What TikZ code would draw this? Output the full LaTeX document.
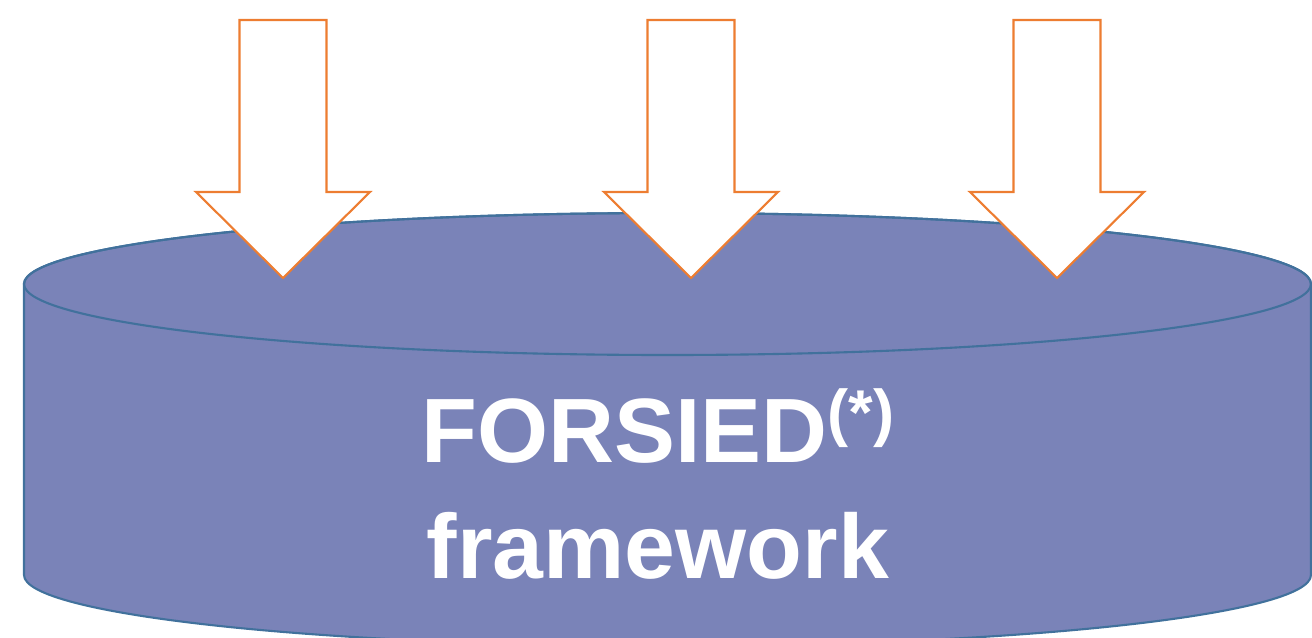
\documentclass[tikz,border=0pt]{standalone}
\usepackage{fontspec}
\setmainfont{Liberation Sans}
\definecolor{drumfill}{RGB}{122,131,184}
\definecolor{drumline}{RGB}{65,113,156}
\definecolor{feedorange}{RGB}{237,125,49}
\tikzset{
  drum/.style={fill=drumfill, draw=drumline, line width=0.6pt},
  feed/.style={fill=white, draw=feedorange, line width=0.6pt, line join=miter},
  title/.style={text=white, font=\bfseries\fontsize{26}{31}\selectfont, inner sep=0pt, anchor=base}
}

\begin{document}
\begin{tikzpicture}
          \useasboundingbox (0, 0) rectangle (13.12, 6.37);
          \clip (0, 0) rectangle (13.12, 6.37);
          % the drum
          \path[drum] (0.24, 3.53) -- (0.24, 0.62) arc (180:360:6.435 and 0.71) -- (13.11, 3.53) arc (0:180:6.435 and 0.71) -- cycle;
          \draw[drum, fill=none] (6.675, 3.53) ellipse (6.435 and 0.71);
          % three inputs pointing down onto it
          \foreach \x/\name in {2.83/left, 6.91/mid, 10.57/right}
          \draw[feed] (\x-0.435, 6.17) coordinate (\name) -- (\x+0.435, 6.17) -- (\x+0.435, 4.45) -- (\x+0.87, 4.45) -- (\x, 3.59) -- (\x-0.87, 4.45) -- (\x-0.435, 4.45) -- cycle;
          \node[title] (name) at (6.58, 1.75) {FORSIED\raisebox{0.28cm}{\fontsize{18}{18}\selectfont(*)}};
          \node[title] (kind) at (6.58, 0.59) {framework};
        \end{tikzpicture}
\end{document}
